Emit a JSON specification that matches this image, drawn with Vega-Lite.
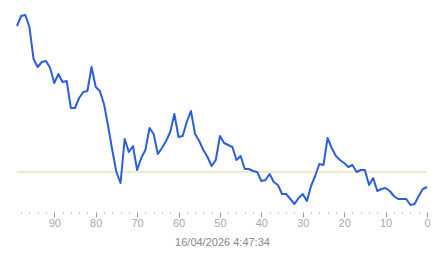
{
  "$schema": "https://vega.github.io/schema/vega-lite/v6.json",
  "width": 410,
  "height": 210,
  "autosize": {"type": "none"},
  "padding": {"left": 17, "top": 0, "right": 16, "bottom": 48},
  "background": "white",
  "config": {"view": {"stroke": null}},
  "datasets": {
    "series": [
      {"i": 99, "v": 194}, {"i": 98, "v": 204}, {"i": 97, "v": 205}, {"i": 96, "v": 193},
      {"i": 95, "v": 161}, {"i": 94, "v": 153}, {"i": 93, "v": 158}, {"i": 92, "v": 159},
      {"i": 91, "v": 152}, {"i": 90, "v": 137}, {"i": 89, "v": 146}, {"i": 88, "v": 138},
      {"i": 87, "v": 139}, {"i": 86, "v": 112}, {"i": 85, "v": 112}, {"i": 84, "v": 122},
      {"i": 83, "v": 128}, {"i": 82, "v": 129}, {"i": 81, "v": 153}, {"i": 80, "v": 133},
      {"i": 79, "v": 129}, {"i": 78, "v": 116}, {"i": 77, "v": 94}, {"i": 76, "v": 70},
      {"i": 75, "v": 48}, {"i": 74, "v": 37}, {"i": 73, "v": 81}, {"i": 72, "v": 68},
      {"i": 71, "v": 74}, {"i": 70, "v": 50}, {"i": 69, "v": 62}, {"i": 68, "v": 70},
      {"i": 67, "v": 92}, {"i": 66, "v": 86}, {"i": 65, "v": 66}, {"i": 64, "v": 72},
      {"i": 63, "v": 79}, {"i": 62, "v": 88}, {"i": 61, "v": 106}, {"i": 60, "v": 83},
      {"i": 59, "v": 84}, {"i": 58, "v": 98}, {"i": 57, "v": 109}, {"i": 56, "v": 86},
      {"i": 55, "v": 79}, {"i": 54, "v": 70}, {"i": 53, "v": 63}, {"i": 52, "v": 54},
      {"i": 51, "v": 60}, {"i": 50, "v": 84}, {"i": 49, "v": 77}, {"i": 48, "v": 75},
      {"i": 47, "v": 73}, {"i": 46, "v": 60}, {"i": 45, "v": 64}, {"i": 44, "v": 51},
      {"i": 43, "v": 51}, {"i": 42, "v": 49}, {"i": 41, "v": 48}, {"i": 40, "v": 39},
      {"i": 39, "v": 40}, {"i": 38, "v": 46}, {"i": 37, "v": 38}, {"i": 36, "v": 35},
      {"i": 35, "v": 26}, {"i": 34, "v": 26}, {"i": 33, "v": 21}, {"i": 32, "v": 16},
      {"i": 31, "v": 22}, {"i": 30, "v": 26}, {"i": 29, "v": 19}, {"i": 28, "v": 34},
      {"i": 27, "v": 44}, {"i": 26, "v": 56}, {"i": 25, "v": 55}, {"i": 24, "v": 82},
      {"i": 23, "v": 72}, {"i": 22, "v": 64}, {"i": 21, "v": 60}, {"i": 20, "v": 57},
      {"i": 19, "v": 53}, {"i": 18, "v": 55}, {"i": 17, "v": 48}, {"i": 16, "v": 50},
      {"i": 15, "v": 50}, {"i": 14, "v": 35}, {"i": 13, "v": 42}, {"i": 12, "v": 29},
      {"i": 11, "v": 31}, {"i": 10, "v": 32}, {"i": 9, "v": 29}, {"i": 8, "v": 24},
      {"i": 7, "v": 21}, {"i": 6, "v": 21}, {"i": 5, "v": 21}, {"i": 4, "v": 15},
      {"i": 3, "v": 16}, {"i": 2, "v": 24}, {"i": 1, "v": 31}, {"i": 0, "v": 33}
    ],
    "ref": [{"level": 48}]
  },
  "layer": [
    {
      "data": {"name": "ref"},
      "mark": {"type": "rule", "color": "#e8d48a", "strokeWidth": 1},
      "encoding": {
        "y": {"field": "level", "type": "quantitative", "scale": {"domain": [10, 220], "nice": false, "zero": false}, "axis": null}
      }
    },
    {
      "data": {"name": "series"},
      "mark": {"type": "line", "color": "#2b5fd9", "strokeWidth": 2, "strokeJoin": "round"},
      "encoding": {
        "x": {
          "field": "i",
          "type": "quantitative",
          "scale": {"domain": [0, 99], "reverse": true, "nice": false, "zero": false},
          "axis": {
            "values": [0, 2, 4, 6, 8, 10, 12, 14, 16, 18, 20, 22, 24, 26, 28, 30, 32, 34, 36, 38, 40, 42, 44, 46, 48, 50, 52, 54, 56, 58, 60, 62, 64, 66, 68, 70, 72, 74, 76, 78, 80, 82, 84, 86, 88, 90, 92, 94, 96, 98],
            "labelExpr": "datum.value % 10 === 0 ? datum.label : ''",
            "labelOverlap": false,
            "labelFlush": false,
            "domain": false,
            "grid": false,
            "offset": 2,
            "tickSize": {"condition": {"test": "datum.value % 10 === 0", "value": 5}, "value": 1},
            "tickColor": "#999999",
            "tickWidth": 1,
            "labelPadding": 0,
            "labelFont": "Liberation Sans",
            "labelFontSize": 11,
            "labelColor": "#aaaaaa",
            "title": "16/04/2026 4:47:34",
            "titleFont": "Liberation Sans",
            "titleFontSize": 11,
            "titleFontWeight": "normal",
            "titleColor": "#888888",
            "titlePadding": 8
          }
        },
        "y": {"field": "v", "type": "quantitative", "scale": {"domain": [10, 220], "nice": false, "zero": false}, "axis": null}
      }
    }
  ]
}
